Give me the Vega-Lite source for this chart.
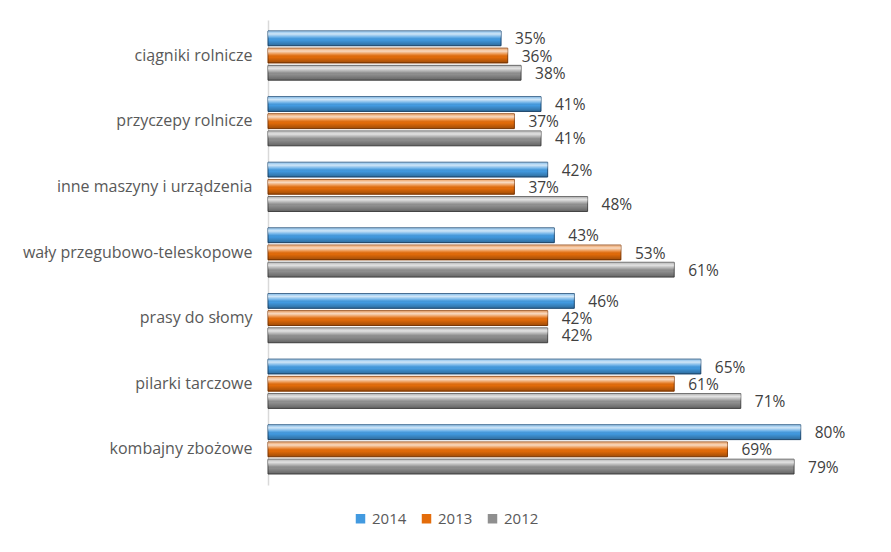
{
  "$schema": "https://vega.github.io/schema/vega-lite/v6.json",
  "autosize": {"type": "none"},
  "width": 566,
  "height": 465,
  "padding": {"left": 268, "top": 20, "right": 57, "bottom": 67},
  "background": "white",
  "config": {"view": {"stroke": null}, "font": "Open Sans"},
  "data": {"values": [
    {"category": "ciągniki rolnicze", "year": "2014", "value": 35},
    {"category": "ciągniki rolnicze", "year": "2013", "value": 36},
    {"category": "ciągniki rolnicze", "year": "2012", "value": 38},
    {"category": "przyczepy rolnicze", "year": "2014", "value": 41},
    {"category": "przyczepy rolnicze", "year": "2013", "value": 37},
    {"category": "przyczepy rolnicze", "year": "2012", "value": 41},
    {"category": "inne maszyny i urządzenia", "year": "2014", "value": 42},
    {"category": "inne maszyny i urządzenia", "year": "2013", "value": 37},
    {"category": "inne maszyny i urządzenia", "year": "2012", "value": 48},
    {"category": "wały przegubowo-teleskopowe", "year": "2014", "value": 43},
    {"category": "wały przegubowo-teleskopowe", "year": "2013", "value": 53},
    {"category": "wały przegubowo-teleskopowe", "year": "2012", "value": 61},
    {"category": "prasy do słomy", "year": "2014", "value": 46},
    {"category": "prasy do słomy", "year": "2013", "value": 42},
    {"category": "prasy do słomy", "year": "2012", "value": 42},
    {"category": "pilarki tarczowe", "year": "2014", "value": 65},
    {"category": "pilarki tarczowe", "year": "2013", "value": 61},
    {"category": "pilarki tarczowe", "year": "2012", "value": 71},
    {"category": "kombajny zbożowe", "year": "2014", "value": 80},
    {"category": "kombajny zbożowe", "year": "2013", "value": 69},
    {"category": "kombajny zbożowe", "year": "2012", "value": 79}
  ]},
  "transform": [{"calculate": "datum.value + '%'", "as": "label"}],
  "encoding": {
    "y": {
      "field": "category", "type": "nominal", "sort": null,
      "scale": {"paddingInner": 0.25, "paddingOuter": 0.167},
      "axis": {"title": null, "ticks": false, "domainColor": "#d9d9d9", "domainWidth": 1.5,
               "labelFont": "Open Sans", "labelFontSize": 16, "labelColor": "#595959", "labelPadding": 16, "labelLimit": 400}
    },
    "yOffset": {"field": "year", "type": "nominal", "sort": ["2014", "2013", "2012"],
                "scale": {"paddingInner": 0.14}},
    "x": {"field": "value", "type": "quantitative", "scale": {"domain": [0, 85]}, "axis": null}
  },
  "layer": [
    {
      "mark": {"type": "bar", "strokeWidth": 1},
      "encoding": {
        "color": {
          "field": "year", "type": "nominal", "sort": ["2014", "2013", "2012"],
          "scale": {"domain": ["2014", "2013", "2012"], "range": ["#429ae0", "#e46c0a", "#8f8f8f"]},
          "legend": {
            "title": null, "orient": "none", "direction": "horizontal", "columns": 3,
            "legendX": 85, "legendY": 491, "symbolType": "square", "symbolSize": 90,
            "labelFont": "Open Sans", "labelFontSize": 15, "labelColor": "#595959",
            "columnPadding": 12, "symbolStrokeWidth": 0
          }
        },
        "stroke": {
          "field": "year", "type": "nominal",
          "scale": {"domain": ["2014", "2013", "2012"], "range": ["#1f4e79", "#8a3d05", "#4d4d4d"]},
          "legend": null
        }
      }
    },
    {
      "mark": {"type": "bar", "fill": {
        "gradient": "linear", "x1": 0, "y1": 0, "x2": 0, "y2": 1,
        "stops": [
          {"offset": 0, "color": "rgba(255,255,255,0.35)"},
          {"offset": 0.2, "color": "rgba(255,255,255,0.75)"},
          {"offset": 0.45, "color": "rgba(255,255,255,0.15)"},
          {"offset": 0.6, "color": "rgba(0,0,0,0)"},
          {"offset": 1, "color": "rgba(0,0,0,0.3)"}
        ]}}
    },
    {
      "mark": {"type": "text", "align": "left", "dx": 14, "dy": 1, "font": "Open Sans", "fontSize": 15.5, "color": "#404040", "baseline": "middle"},
      "encoding": {"text": {"field": "label", "type": "nominal"}}
    }
  ]
}
